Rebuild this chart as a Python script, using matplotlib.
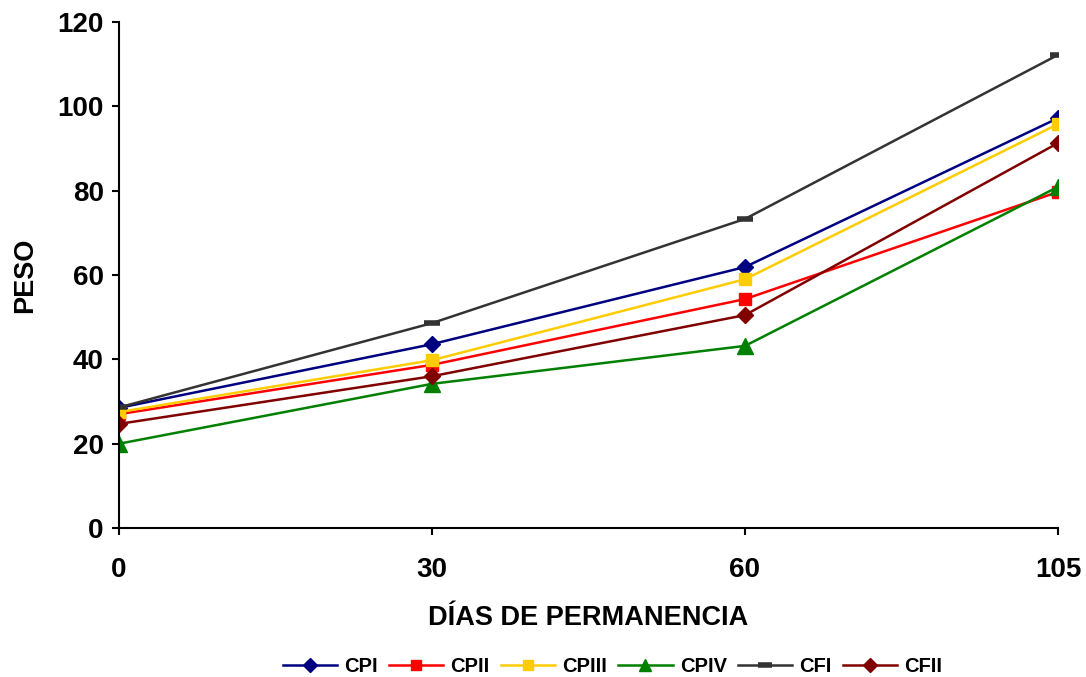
import matplotlib.pyplot as plt

plt.rcParams['font.family'] = ['Liberation Sans', 'DejaVu Sans']
plt.rcParams['font.weight'] = 'bold'

dias = ['0', '30', '60', '105']

# Peso por tratamiento en cada fecha de muestreo
cpi = [28.5, 43.6, 61.9, 97.2]
cpii = [27.0, 38.7, 54.3, 79.7]
cpiii = [27.5, 39.8, 59.0, 95.8]
cpiv = [20.0, 34.2, 43.2, 80.9]
cfi = [28.6, 48.6, 73.3, 112.2]
cfii = [24.7, 36.0, 50.5, 91.3]

x = range(len(dias))

fig = plt.figure(figsize=(10.86, 6.77), dpi=100)
ax = fig.add_axes([0.1096, 0.22, 0.8646, 0.7475])

ax.plot(x, cpi, color='#000080', marker='D', markersize=8, lw=1.8, label='CPI')
ax.plot(x, cpii, color='#ff0000', marker='s', markersize=8, lw=1.8, label='CPII')
ax.plot(x, cpiii, color='#ffcc00', marker='s', markersize=9, lw=1.8, label='CPIII')
ax.plot(x, cpiv, color='#008000', marker='^', markersize=11, lw=1.8, label='CPIV')
ax.plot(x, cfi, color='#333333', marker='_', markersize=12, mew=4, lw=1.8, label='CFI')
ax.plot(x, cfii, color='#800000', marker='D', markersize=8, lw=1.8, label='CFII')

ax.set_xlim(0, 3)
ax.set_ylim(0, 120)
ax.set_xticks(list(x))
ax.set_xticklabels(dias)
ax.set_yticks(range(0, 121, 20))
ax.tick_params(labelsize=20, width=1.5, length=5, direction='out')
ax.tick_params(axis='x', pad=16)
ax.tick_params(axis='y', pad=6)
for lbl in ax.get_xticklabels() + ax.get_yticklabels():
    lbl.set_fontweight('bold')

for side in ['top', 'right']:
    ax.spines[side].set_visible(False)
for side in ['left', 'bottom']:
    ax.spines[side].set_linewidth(1.5)
ax.set_clip_on(False)

ax.set_xlabel('DÍAS DE PERMANENCIA', fontsize=19.5, fontweight='bold', labelpad=16)
ax.set_ylabel('PESO', fontsize=19.5, fontweight='bold', labelpad=14)

fig.legend(loc='lower center', bbox_to_anchor=(0.564, -0.022), ncol=6, frameon=False,
           prop={'size': 14.5, 'weight': 'bold'}, handlelength=2.7, columnspacing=0.55,
           handletextpad=0.35, markerscale=0.85, borderpad=0.3)

fig.savefig('out.png', dpi=100)
